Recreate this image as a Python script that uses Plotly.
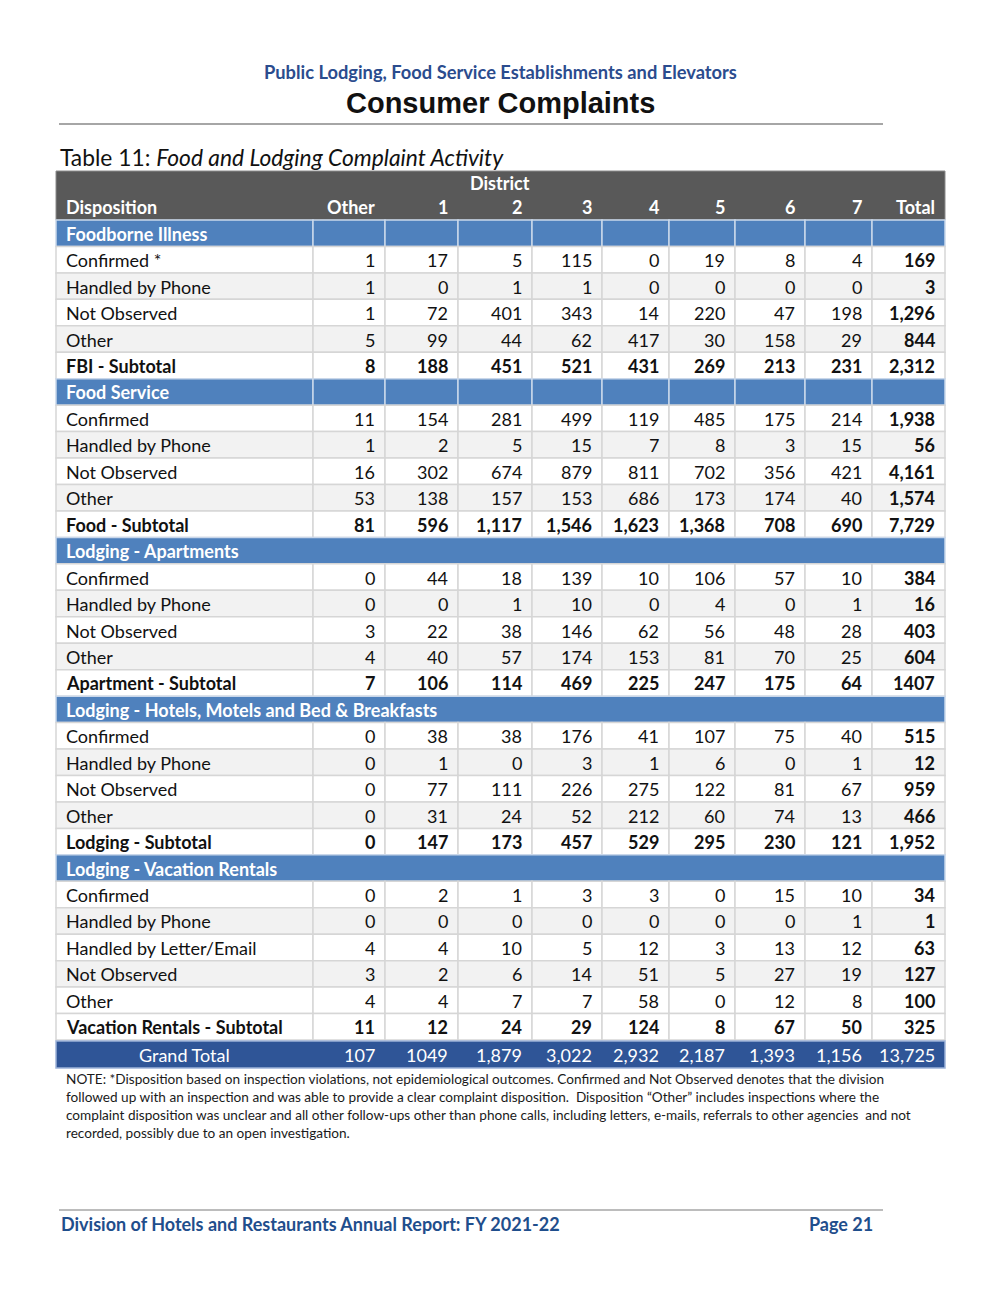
import plotly.graph_objects as go

# ---------------- DATA ----------------
districts = ["Other", "1", "2", "3", "4", "5", "6", "7"]
total_label = "Total"

section_names = [
    "Foodborne Illness",
    "Food Service",
    "Lodging - Apartments",
    "Lodging - Hotels, Motels and Bed & Breakfasts",
    "Lodging - Vacation Rentals",
]

fbi_rows = ["Confirmed *", "Handled by Phone", "Not Observed", "Other", "FBI - Subtotal"]
fbi_values = [
    [1, 17, 5, 115, 0, 19, 8, 4],
    [1, 0, 1, 1, 0, 0, 0, 0],
    [1, 72, 401, 343, 14, 220, 47, 198],
    [5, 99, 44, 62, 417, 30, 158, 29],
    [8, 188, 451, 521, 431, 269, 213, 231],
]
fbi_totals = [169, 3, 1296, 844, 2312]

food_rows = ["Confirmed", "Handled by Phone", "Not Observed", "Other", "Food - Subtotal"]
food_values = [
    [11, 154, 281, 499, 119, 485, 175, 214],
    [1, 2, 5, 15, 7, 8, 3, 15],
    [16, 302, 674, 879, 811, 702, 356, 421],
    [53, 138, 157, 153, 686, 173, 174, 40],
    [81, 596, 1117, 1546, 1623, 1368, 708, 690],
]
food_totals = [1938, 56, 4161, 1574, 7729]

apt_rows = ["Confirmed", "Handled by Phone", "Not Observed", "Other", "Apartment - Subtotal"]
apt_values = [
    [0, 44, 18, 139, 10, 106, 57, 10],
    [0, 0, 1, 10, 0, 4, 0, 1],
    [3, 22, 38, 146, 62, 56, 48, 28],
    [4, 40, 57, 174, 153, 81, 70, 25],
    [7, 106, 114, 469, 225, 247, 175, 64],
]
apt_totals = [384, 16, 403, 604, 1407]

hotel_rows = ["Confirmed", "Handled by Phone", "Not Observed", "Other", "Lodging - Subtotal"]
hotel_values = [
    [0, 38, 38, 176, 41, 107, 75, 40],
    [0, 1, 0, 3, 1, 6, 0, 1],
    [0, 77, 111, 226, 275, 122, 81, 67],
    [0, 31, 24, 52, 212, 60, 74, 13],
    [0, 147, 173, 457, 529, 295, 230, 121],
]
hotel_totals = [515, 12, 959, 466, 1952]

vac_rows = ["Confirmed", "Handled by Phone", "Handled by Letter/Email", "Not Observed",
            "Other", "Vacation Rentals - Subtotal"]
vac_values = [
    [0, 2, 1, 3, 3, 0, 15, 10],
    [0, 0, 0, 0, 0, 0, 0, 1],
    [4, 4, 10, 5, 12, 3, 13, 12],
    [3, 2, 6, 14, 51, 5, 27, 19],
    [4, 4, 7, 7, 58, 0, 12, 8],
    [11, 12, 24, 29, 124, 8, 67, 50],
]
vac_totals = [34, 1, 63, 127, 100, 325]

grand_total_label = "Grand Total"
grand_total_values = [107, 1049, 1879, 3022, 2932, 2187, 1393, 1156]
grand_total_sum = 13725

# cells printed without a thousands separator in the source
plain_cells = {("Apartment - Subtotal", "Total"), ("Grand Total", "1")}

note_lines = [
    "NOTE: *Disposition based on inspection violations, not epidemiological outcomes. Confirmed and Not Observed denotes that the division",
    "followed up with an inspection and was able to provide a clear complaint disposition.  Disposition \u201cOther\u201d includes inspections where the",
    "complaint disposition was unclear and all other follow-ups other than phone calls, including letters, e-mails, referrals to other agencies  and not",
    "recorded, possibly due to an open investigation.",
]

page_supertitle = "Public Lodging, Food Service Establishments and Elevators"
page_title = "Consumer Complaints"
table_caption_num = "Table 11: "
table_caption = "Food and Lodging Complaint Activity"
footer_left = "Division of Hotels and Restaurants Annual Report: FY 2021-22"
footer_right = "Page 21"

sections = [
    (section_names[0], fbi_rows, fbi_values, fbi_totals),
    (section_names[1], food_rows, food_values, food_totals),
    (section_names[2], apt_rows, apt_values, apt_totals),
    (section_names[3], hotel_rows, hotel_values, hotel_totals),
    (section_names[4], vac_rows, vac_values, vac_totals),
]
merged_section = [False, False, True, True, True]

# ---------------- STYLE / LAYOUT ----------------
FONT = "Lato"
COL_EDGES = [56, 313, 385, 458, 532, 602, 669, 735, 805, 872, 945]
HEADER_TOP, HEADER_BOTTOM = 171, 220
BODY_BOTTOM = 1040
GT_TOP, GT_BOTTOM = 1041, 1068
PAD = 8
C_HEADER = "#595959"
C_SECTION = "#4F81BD"
C_GT = "#2F5597"
C_ZEBRA = "#F2F2F2"
C_GRID = "#D6D6D6"
C_TEXT = "#111111"
FS = 18
PAGE_OFFSET = 8  # html body margin

shapes = []
ann = []


def fmt(v, row_label, col_label):
    if (row_label, col_label) in plain_cells:
        return str(v)
    return f"{v:,}"


def rect(x0, y0, x1, y1, fill, line_color, lw=1.2):
    shapes.append(dict(type="rect", xref="x", yref="y", x0=x0, x1=x1, y0=y0, y1=y1,
                       fillcolor=fill, line=dict(color=line_color, width=lw), layer="below"))


def text(x, y, s, anchor="left", size=FS, color=C_TEXT, family=FONT):
    ann.append(dict(x=x, y=y, xref="x", yref="y", text=s, showarrow=False,
                    xanchor=anchor, yanchor="middle",
                    font=dict(family=family, size=size, color=color)))


# Page heading
text(500, 72, "<b>" + page_supertitle + "</b>", "center", 18.3, "#2B4C8E")
text(500, 103, "<b>" + page_title + "</b>", "center", 29, "#111111", "Liberation Sans")
shapes.append(dict(type="line", xref="x", yref="y", x0=59, x1=883, y0=124, y1=124,
                   line=dict(color="#A6A6A6", width=2)))
text(58, 157, table_caption_num + "<i>" + table_caption + "</i>", "left", 22.8, "#111111")

# Header block
rect(COL_EDGES[0], HEADER_TOP, COL_EDGES[-1], HEADER_BOTTOM, C_HEADER, "#8C8C8C", 1)
text(500, 183, "<b>District</b>", "center", FS, "white")
hy = 207
text(COL_EDGES[0] + PAD, hy, "<b>Disposition</b>", "left", FS, "white")
for j, d in enumerate(districts):
    text(COL_EDGES[j + 2] - PAD, hy, "<b>" + d + "</b>", "right", FS, "white")
text(COL_EDGES[-1] - PAD, hy, "<b>" + total_label + "</b>", "right", FS, "white")

# Body rows
n_rows = sum(1 + len(s[1]) for s in sections)
row_h = (BODY_BOTTOM - HEADER_BOTTOM) / n_rows
r = 0
for si, (name, labels, values, totals) in enumerate(sections):
    y0 = HEADER_BOTTOM + r * row_h
    y1 = y0 + row_h
    yc = (y0 + y1) / 2
    if merged_section[si]:
        rect(COL_EDGES[0], y0, COL_EDGES[-1], y1, C_SECTION, "#C9D7EA", 1.5)
    else:
        for c in range(len(COL_EDGES) - 1):
            rect(COL_EDGES[c], y0, COL_EDGES[c + 1], y1, C_SECTION, "#C9D7EA", 1.5)
    text(COL_EDGES[0] + PAD, yc + 0.5, "<b>" + name + "</b>", "left", FS, "white")
    r += 1
    n_detail = len(labels) - 1
    for i, lab in enumerate(labels):
        y0 = HEADER_BOTTOM + r * row_h
        y1 = y0 + row_h
        yc = (y0 + y1) / 2
        subtotal = i == n_detail
        fill = C_ZEBRA if (not subtotal and i % 2 == 1) else "white"
        for c in range(len(COL_EDGES) - 1):
            rect(COL_EDGES[c], y0, COL_EDGES[c + 1], y1, fill, C_GRID, 1.5)
        b0, b1 = ("<b>", "</b>") if subtotal else ("", "")
        text(COL_EDGES[0] + PAD, yc + 0.5, b0 + lab + b1)
        for j, v in enumerate(values[i]):
            text(COL_EDGES[j + 2] - PAD, yc + 0.5, b0 + fmt(v, lab, districts[j]) + b1, "right")
        text(COL_EDGES[-1] - PAD, yc + 0.5, "<b>" + fmt(totals[i], lab, total_label) + "</b>", "right")
        r += 1

# Grand total
rect(COL_EDGES[0], GT_TOP, COL_EDGES[-1], GT_BOTTOM, C_GT, "#9DB3D9", 1.5)
gy = (GT_TOP + GT_BOTTOM) / 2 + 0.5
text((COL_EDGES[0] + COL_EDGES[1]) / 2, gy, grand_total_label, "center", FS, "white")
for j, v in enumerate(grand_total_values):
    text(COL_EDGES[j + 2] - PAD, gy, fmt(v, grand_total_label, districts[j]), "right", FS, "white")
text(COL_EDGES[-1] - PAD, gy, fmt(grand_total_sum, grand_total_label, total_label), "right", FS, "white")

# Notes
for k, line in enumerate(note_lines):
    text(64, 1079 + 18 * k, line, "left", 13.6, "#1a1a1a")

# Footer
shapes.append(dict(type="line", xref="x", yref="y", x0=59, x1=883, y0=1210, y1=1210,
                   line=dict(color="#A6A6A6", width=1.5)))
text(59, 1224, "<b>" + footer_left + "</b>", "left", 18, "#1F4E8C")
text(875, 1224, "<b>" + footer_right + "</b>", "right", 18, "#1F4E8C")

fig = go.Figure()
fig.add_trace(go.Scatter(x=[PAGE_OFFSET, 1000], y=[PAGE_OFFSET, 1294], mode="markers",
                         marker=dict(opacity=0), hoverinfo="skip", showlegend=False))
fig.update_layout(
    width=1000, height=1294,
    margin=dict(l=0, r=0, t=0, b=0),
    paper_bgcolor="white", plot_bgcolor="white",
    xaxis=dict(range=[PAGE_OFFSET, 1000 + PAGE_OFFSET], visible=False, fixedrange=True),
    yaxis=dict(range=[1294 + PAGE_OFFSET, PAGE_OFFSET], visible=False, fixedrange=True),
    shapes=shapes, annotations=ann, showlegend=False,
)
fig.write_html("out.html")
